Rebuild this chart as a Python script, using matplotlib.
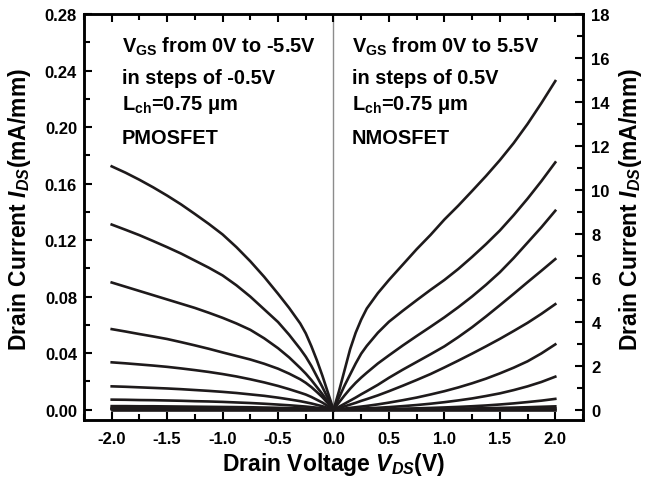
import matplotlib
matplotlib.use("Agg")
import matplotlib.pyplot as plt
from matplotlib.ticker import MultipleLocator

plt.rcParams['font.family'] = ['Liberation Sans', 'DejaVu Sans']
plt.rcParams['font.weight'] = 'bold'
plt.rcParams['axes.labelweight'] = 'bold'
plt.rcParams['mathtext.fontset'] = 'custom'
plt.rcParams['mathtext.rm'] = 'Liberation Sans:bold'
plt.rcParams['mathtext.bf'] = 'Liberation Sans:bold'
plt.rcParams['mathtext.it'] = 'Liberation Sans:italic:bold'
plt.rcParams['axes.unicode_minus'] = False

# |V_DS| sample points (V), same for both devices
vds = [0, 0.05, 0.1, 0.15, 0.2, 0.25, 0.3, 0.4, 0.5, 0.625, 0.75, 0.875,
       1.0, 1.125, 1.25, 1.375, 1.5, 1.625, 1.75, 1.875, 2.0]

# PMOSFET |I_DS| (mA/mm), V_GS = -5.5 ... 0 V (left axis)
pmos = [
    [0, 0.012, 0.024, 0.035, 0.045, 0.054, 0.061, 0.072, 0.082, 0.094, 0.105, 0.115,
     0.124, 0.1315, 0.1385, 0.1453, 0.1515, 0.1573, 0.1627, 0.1677, 0.1722],
    [0, 0.008, 0.016, 0.0235, 0.031, 0.0375, 0.043, 0.053, 0.062, 0.071, 0.080, 0.088,
     0.095, 0.1005, 0.1055, 0.1105, 0.115, 0.1193, 0.1235, 0.1273, 0.131],
    [0, 0.0055, 0.011, 0.016, 0.021, 0.0255, 0.0295, 0.037, 0.0435, 0.0505, 0.0565, 0.061,
     0.065, 0.0686, 0.072, 0.075, 0.078, 0.081, 0.084, 0.087, 0.090],
    [0, 0.0045, 0.0088, 0.0125, 0.016, 0.019, 0.0215, 0.0255, 0.029, 0.0325, 0.0355, 0.038,
     0.0405, 0.0431, 0.0455, 0.0478, 0.050, 0.0518, 0.0535, 0.0553, 0.057],
    [0, 0.0025, 0.005, 0.007, 0.009, 0.0107, 0.012, 0.0145, 0.0168, 0.0193, 0.0215, 0.0235,
     0.0252, 0.0267, 0.028, 0.0292, 0.0303, 0.0312, 0.032, 0.0328, 0.0335],
    [0, 0.0012, 0.0024, 0.0034, 0.0044, 0.0052, 0.006, 0.0073, 0.0085, 0.0098, 0.0108, 0.0118,
     0.0126, 0.0133, 0.0139, 0.0145, 0.015, 0.0154, 0.0158, 0.0162, 0.0165],
    [0, 0.0005, 0.001, 0.0014, 0.0018, 0.0022, 0.0025, 0.0031, 0.0036, 0.0042, 0.0047, 0.0051,
     0.0055, 0.0058, 0.006, 0.0063, 0.0065, 0.0067, 0.0068, 0.007, 0.0071],
    [0, 0.0002, 0.0003, 0.0005, 0.0006, 0.0008, 0.0009, 0.0011, 0.0013, 0.0015, 0.0017, 0.0018,
     0.0019, 0.002, 0.0021, 0.0022, 0.0023, 0.0024, 0.0024, 0.0025, 0.0025],
    [0, 0.0001, 0.0001, 0.0002, 0.0003, 0.0004, 0.0004, 0.0005, 0.0006, 0.0007, 0.0008, 0.0009,
     0.0009, 0.001, 0.001, 0.0011, 0.0011, 0.0011, 0.0012, 0.0012, 0.0012],
    [0, 0, 0.0001, 0.0001, 0.0001, 0.0002, 0.0002, 0.0002, 0.0003, 0.0003, 0.0004, 0.0004,
     0.0004, 0.0005, 0.0005, 0.0005, 0.0005, 0.0006, 0.0006, 0.0006, 0.0006],
    [0, 0, 0, 0, 0.0001, 0.0001, 0.0001, 0.0001, 0.0001, 0.0002, 0.0002, 0.0002,
     0.0002, 0.0002, 0.0002, 0.0003, 0.0003, 0.0003, 0.0003, 0.0003, 0.0003],
    [0, 0, 0, 0, 0, 0, 0, 0, 0, 0, 0, 0,
     0, 0, 0, 0, 0, 0, 0, 0, 0],
]

# NMOSFET I_DS (mA/mm), V_GS = 5.5 ... 0 V (right axis)
nmos = [
    [0, 0.85, 1.8, 2.75, 3.5, 4.1, 4.6, 5.3, 5.9, 6.6, 7.3, 7.95,
     8.65, 9.28, 9.95, 10.63, 11.35, 12.13, 13.0, 13.95, 14.95],
    [0, 0.55, 1.1, 1.6, 2.1, 2.55, 2.9, 3.5, 4.0, 4.5, 4.98, 5.45,
     5.9, 6.4, 6.95, 7.53, 8.15, 8.85, 9.6, 10.4, 11.25],
    [0, 0.33, 0.65, 0.95, 1.22, 1.46, 1.68, 2.1, 2.47, 2.92, 3.35, 3.77,
     4.2, 4.66, 5.15, 5.68, 6.25, 6.9, 7.6, 8.3, 9.05],
    [0, 0.13, 0.27, 0.41, 0.55, 0.7, 0.84, 1.13, 1.45, 1.82, 2.17, 2.52,
     2.88, 3.3, 3.75, 4.24, 4.75, 5.27, 5.8, 6.32, 6.85],
    [0, 0.07, 0.15, 0.23, 0.31, 0.4, 0.48, 0.65, 0.84, 1.09, 1.35, 1.62,
     1.92, 2.23, 2.55, 2.88, 3.22, 3.58, 3.95, 4.36, 4.8],
    [0, 0.025, 0.05, 0.08, 0.11, 0.14, 0.17, 0.24, 0.32, 0.43, 0.55, 0.69,
     0.84, 1.01, 1.2, 1.41, 1.65, 1.91, 2.2, 2.56, 2.97],
    [0, 0.01, 0.02, 0.03, 0.04, 0.05, 0.06, 0.085, 0.115, 0.16, 0.21, 0.27,
     0.34, 0.42, 0.51, 0.62, 0.74, 0.89, 1.06, 1.26, 1.5],
    [0, 0.003, 0.006, 0.009, 0.012, 0.015, 0.018, 0.024, 0.032, 0.045, 0.06, 0.078,
     0.1, 0.125, 0.155, 0.19, 0.235, 0.285, 0.345, 0.41, 0.49],
    [0, 0.001, 0.002, 0.003, 0.004, 0.005, 0.006, 0.008, 0.011, 0.015, 0.02, 0.027,
     0.035, 0.044, 0.055, 0.067, 0.08, 0.094, 0.11, 0.13, 0.15],
    [0, 0, 0.001, 0.001, 0.002, 0.002, 0.003, 0.004, 0.005, 0.006, 0.008, 0.01,
     0.013, 0.016, 0.02, 0.025, 0.03, 0.036, 0.044, 0.052, 0.06],
    [0, 0, 0, 0.001, 0.001, 0.001, 0.001, 0.002, 0.002, 0.003, 0.004, 0.005,
     0.006, 0.008, 0.01, 0.012, 0.015, 0.018, 0.022, 0.026, 0.03],
    [0, 0, 0, 0, 0, 0, 0, 0, 0, 0, 0, 0,
     0, 0, 0, 0, 0, 0, 0, 0, 0],
]

xticks = [-2.0, -1.5, -1.0, -0.5, 0.0, 0.5, 1.0, 1.5, 2.0]
xticklabels = ['-2.0', '-1.5', '-1.0', '-0.5', '0.0', '0.5', '1.0', '1.5', '2.0']
lticks = [0.00, 0.04, 0.08, 0.12, 0.16, 0.20, 0.24, 0.28]
lticklabels = ['0.00', '0.04', '0.08', '0.12', '0.16', '0.20', '0.24', '0.28']
rticks = [0, 2, 4, 6, 8, 10, 12, 14, 16, 18]

line_col = '#1e1a1b'

fig = plt.figure(figsize=(6.45, 4.85), dpi=100)
ax = fig.add_axes([0.1302, 0.132, 0.7737, 0.837])
ax2 = ax.twinx()

ax.axvline(0, color='#8c8c8c', lw=1.0, zorder=1)

neg_v = [-v for v in vds]
for cur in pmos:
    ax.plot(neg_v, cur, color=line_col, lw=1.9, solid_joinstyle='round')
for cur in nmos:
    ax2.plot(vds, cur, color=line_col, lw=1.9, solid_joinstyle='round')

ax.set_xlim(-2.25, 2.25)
ax.set_ylim(-0.0073, 0.28)
ax2.set_ylim(-0.47, 18)

ax.set_xticks(xticks)
ax.set_xticklabels(xticklabels)
ax.xaxis.set_minor_locator(MultipleLocator(0.25))
ax.set_yticks(lticks)
ax.set_yticklabels(lticklabels)
ax.yaxis.set_minor_locator(MultipleLocator(0.02))
ax2.set_yticks(rticks)
ax2.yaxis.set_minor_locator(MultipleLocator(1))

ax.tick_params(axis='both', which='both', direction='in', width=1.5, labelsize=12)
ax.tick_params(axis='x', which='both', top=True, pad=8)
ax.tick_params(axis='y', which='both', right=False, pad=5)
ax.tick_params(which='major', length=6)
ax.tick_params(which='minor', length=4)
ax2.tick_params(axis='y', which='both', direction='in', width=1.5, labelsize=12, pad=6)
ax2.tick_params(which='major', length=6)
ax2.tick_params(which='minor', length=4)

for a in (ax, ax2):
    for s in a.spines.values():
        s.set_linewidth(1.8)

ax.set_xlabel('Drain Voltage $V_{DS}$(V)', fontsize=16.5, fontweight='bold', va='center')
ax.xaxis.set_label_coords(0.5, -0.108)
ax.set_ylabel('Drain Current $I_{DS}$(mA/mm)', fontsize=16.5, fontweight='bold', va='center')
ax.yaxis.set_label_coords(-0.130, 0.52)
ax2.set_ylabel('Drain Current $I_{DS}$(mA/mm)', fontsize=16.5, fontweight='bold', va='center', rotation=90)
ax2.yaxis.set_label_coords(1.096, 0.52)

# annotation blocks
fs = 14.4
ax.text(0.076, 0.906, r'$\mathrm{V_{GS}}$ from 0V to -5.5V', transform=ax.transAxes, fontsize=fs)
ax.text(0.076, 0.830, 'in steps of -0.5V', transform=ax.transAxes, fontsize=fs)
ax.text(0.076, 0.766, r'$\mathrm{L_{ch}}$=0.75 μm', transform=ax.transAxes, fontsize=fs)
ax.text(0.076, 0.682, 'PMOSFET', transform=ax.transAxes, fontsize=fs)

ax.text(0.537, 0.906, r'$\mathrm{V_{GS}}$ from 0V to 5.5V', transform=ax.transAxes, fontsize=fs)
ax.text(0.537, 0.830, 'in steps of 0.5V', transform=ax.transAxes, fontsize=fs)
ax.text(0.537, 0.766, r'$\mathrm{L_{ch}}$=0.75 μm', transform=ax.transAxes, fontsize=fs)
ax.text(0.537, 0.682, 'NMOSFET', transform=ax.transAxes, fontsize=fs)

fig.savefig('out.png', dpi=100)
